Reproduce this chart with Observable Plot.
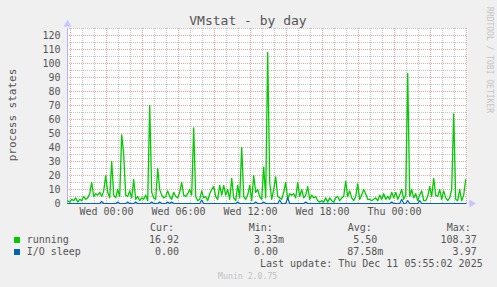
<!DOCTYPE html>
<html><head><meta charset="utf-8">
<script src="https://cdn.jsdelivr.net/npm/d3@7"></script>
<script src="https://cdn.jsdelivr.net/npm/@observablehq/plot@0.6"></script>
<style>
html,body{margin:0;padding:0;background:#f0f0f0;}
#wrap{position:relative;width:497px;height:287px;overflow:hidden;font-family:"DejaVu Sans Mono",monospace;color:#555;}
#wrap svg{position:absolute;left:0;top:0;}
.t{position:absolute;white-space:pre;line-height:1;font-size:10px;}
.sq{position:absolute;width:6px;height:6px;}
</style></head><body><div id="wrap"></div>
<script>
// running processes (10-minute samples)
const running = [
  2,1,3,2,4,1,3,2,5,3,4,7,15,5,7,6,8,
  5,9,20,8,4,30,6,4,10,5,49,35,6,5,9,4,17,
  3,5,2,4,3,6,2,70,8,4,3,25,10,6,4,5,9,
  5,3,8,5,4,8,15,6,5,7,10,6,54,5,2,3,9,4,5,2,
  7,10,12,5,3,13,6,13,6,10,3,18,4,2,13,4,40,5,3,6,
  13,2,20,8,10,5,3,26,4,108,
  15,3,10,19,5,4,3,8,15,3,7,6,7,4,15,5,10,4,6,12,
  3,6,4,5,2,1,2,1,4,1,4,2,1,4,5,2,4,5,16,5,
  9,4,2,5,14,3,6,10,7,3,
  3,2,3,4,2,6,3,7,3,5,3,8,4,8,3,6,10,3,6,93,
  5,10,4,7,2,6,9,2,2,5,12,5,18,6,5,10,3,9,4,2,
  4,10,64,3,2,10,2,6,17
];
// I/O sleep processes
const ioSleep = [
  0,0,0,0,0,0,0,0,0,0, 0,0,0,0,0,0,0,1.5,0,0,
  0,0,0,0,0,1,0,0,0,0, 1,0,0,0,1,0,0,0,0,0,
  0,0,1,0,0,0,1,0,0,0, 1,0,1,0,0,0,0,0,0,0,
  0,0,0,0,0,0,0,2.5,0,0, 0,0,0,0,0,0,0,0,0,0,
  0,0,0,0,0,1,0,0,0,0, 0,0,0,0,1,0,0,0,1,0,
  0,0,0,0,0,0,2.5,0,0,0, 3.97,0,0,0,0,0,0,0,0,1,
  0,0,0,0,0,0,0,0,0,0, 0,0,0,0,0,0,0,0,0,0,
  0,0,0,0,0,0,0,0,0,0, 0,0,0,0,0,0,0,0,0,0,
  0,0,1,0,0,0,0,3,0,0, 2,0,0,0,0,0,2,0,0,0,
  0,0,0,0,0,0,0,0,0,0, 0,0,0,0,0,0,0,0,0,0
];
const startTime = Date.UTC(2025, 11, 9, 20, 46);
const stepMinutes = 10;
const xDomain = [new Date(Date.UTC(2025, 11, 9, 20, 45)), new Date(Date.UTC(2025, 11, 11, 6, 5))];
const xTickLabels = [
  new Date(Date.UTC(2025, 11, 10, 0)), new Date(Date.UTC(2025, 11, 10, 6)),
  new Date(Date.UTC(2025, 11, 10, 12)), new Date(Date.UTC(2025, 11, 10, 18)),
  new Date(Date.UTC(2025, 11, 11, 0))
];
const yTicks = [0,10,20,30,40,50,60,70,80,90,100,110,120];
const yMinor = [5,15,25,35,45,55,65,75,85,95,105,115,125];
const seriesNames = ["running", "I/O sleep"];
const seriesColors = ["#00cc00", "#0066b3"];
const statHeaders = ["Cur:", "Min:", "Avg:", "Max:"];
const statsRunning = ["16.92", "3.33m", "5.50 ", "108.37"];
const statsIoSleep = ["0.00", "0.00 ", "87.58m", "3.97"];
const titleText = "VMstat - by day";
const yLabelText = "process states";
const lastUpdate = "Last update: Thu Dec 11 05:55:02 2025";
const versionText = "Munin 2.0.75";
const sideText = "RRDTOOL / TOBI OETIKER";

const data = running.map((v, i) => ({
  t: new Date(startTime + i * stepMinutes * 60000), running: v, io: ioSleep[i]
}));
const hours = d3.utcHour.range(xDomain[0], xDomain[1]);
const majorHours = hours.filter(d => d.getUTCHours() % 3 === 0);
const minorHours = hours.filter(d => d.getUTCHours() % 3 !== 0);
const axisColor = "#b4b4f0";

const chart = Plot.plot({
  width: 497, height: 220,
  marginLeft: 67, marginRight: 30, marginTop: 28, marginBottom: 17,
  style: {background: "transparent", fontFamily: "DejaVu Sans Mono", fontSize: "10px", color: "#555", overflow: "visible"},
  x: {type: "utc", domain: xDomain, ticks: xTickLabels, tickFormat: d3.utcFormat("%a %H:%M"), tickSize: 0, tickPadding: 4, label: null},
  y: {domain: [0, 125], ticks: yTicks, tickSize: 0, tickPadding: 7, label: null},
  marks: [
    Plot.frame({fill: "white", stroke: null}),
    Plot.ruleX(minorHours, {stroke: "#c4c4c4", strokeDasharray: "1,1"}),
    Plot.ruleY(yMinor, {stroke: "#c4c4c4", strokeDasharray: "1,1"}),
    Plot.ruleX(majorHours, {stroke: "#eaa4a4", strokeDasharray: "1,1"}),
    Plot.ruleY(yTicks.filter(d => d > 0), {stroke: "#eaa4a4", strokeDasharray: "1,1"}),
    Plot.ruleX([xDomain[0]], {stroke: axisColor}),
    Plot.lineY(data, {x: "t", y: "running", stroke: seriesColors[0], strokeWidth: 1.3}),
    Plot.ruleY([0], {stroke: axisColor}),
    Plot.lineY(data, {x: "t", y: "io", stroke: seriesColors[1], strokeWidth: 1.2}),
    Plot.dot([0], {frameAnchor: "top-left", symbol: "triangle", r: 3, dy: -4, fill: "#c8c8ff", stroke: null}),
    Plot.dot([0], {frameAnchor: "bottom-right", symbol: "triangle", rotate: 90, r: 3, dx: 4, fill: "#c8c8ff", stroke: null})
  ]
});
const wrap = document.getElementById("wrap");
wrap.appendChild(chart);

function place(text, x, y, anchor, extra) {
  const d = document.createElement("div");
  d.className = "t";
  d.textContent = text;
  d.style.left = x + "px";
  d.style.top = y + "px";
  const tx = anchor === "end" ? "-100%" : anchor === "middle" ? "-50%" : "0";
  d.style.transform = `translate(${tx},-50%)`;
  if (extra) for (const k in extra) d.style[k] = extra[k];
  wrap.appendChild(d);
  return d;
}
place(titleText, 248, 19.5, "middle", {fontSize: "13px", color: "#555"});
const yl = place(yLabelText, 12, 115, "middle", {fontSize: "11px"});
yl.style.transform = "translate(-50%,-50%) rotate(-90deg)";
const sl = place(sideText, 488.5, 60, "middle", {fontSize: "8px", color: "#c4c4c4"});
sl.style.transform = "translate(-50%,-50%) rotate(90deg)";

const headerX = [150, 248.7, 347.7, 446.7];
statHeaders.forEach((h, i) => place(h, headerX[i], 227.5, "start"));
const colRight = [179, 284, 383.3, 476.7];
const rows = [statsRunning, statsIoSleep];
const rowY = [240, 252];
rows.forEach((r, j) => {
  const sq = document.createElement("div");
  sq.className = "sq";
  sq.style.left = "14px"; sq.style.top = (rowY[j] - 3) + "px";
  sq.style.background = seriesColors[j];
  wrap.appendChild(sq);
  place(seriesNames[j], 26.7, rowY[j], "start");
  r.forEach((v, i) => place(v, colRight[i], rowY[j], "end"));
});
place(lastUpdate, 482.7, 263.7, "end");
place(versionText, 247.7, 276, "middle", {fontSize: "8.2px", color: "#c0c0c0"});
</script></body></html>
